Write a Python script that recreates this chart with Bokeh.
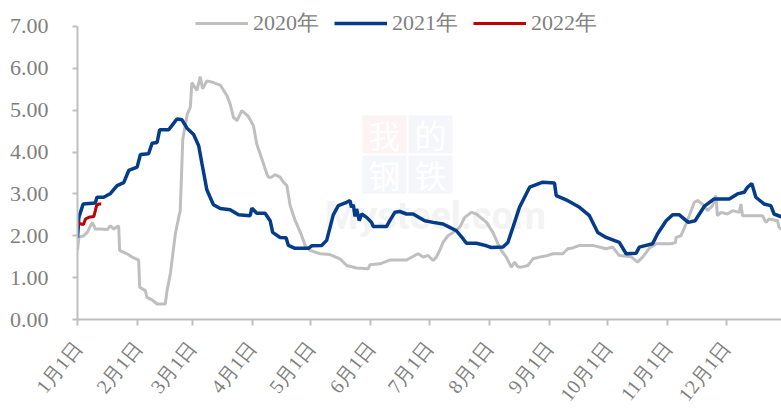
from bokeh.plotting import figure
from bokeh.models import Range1d, FixedTicker, Legend, LegendItem
from bokeh.core.properties import value
from bokeh.embed import file_html
from bokeh.resources import INLINE

# ---- data (day of year, value) ----
days_2020 = [0, 0.7, 3.2, 5, 7.6, 9.2, 11.8, 15.3, 17, 18.7, 21.2, 21.7, 25.5, 28.1, 31.5, 32, 34.9, 35.8,
             38.4, 41, 45.2, 46.1, 47.8, 50.4, 52.1, 52.9, 54.2, 56.5, 58.1, 58.9, 61.5, 63.2, 64.4, 66.6,
             70, 73.5, 76.9, 78.6, 80.3, 82.1, 84.6, 88, 90.6, 92.3, 94.9, 97.5, 98.3, 100, 101.7, 104.3,
             106, 107.8, 109.5, 112.1, 114.6, 116.3, 117.2, 119.7, 124.9, 130, 135.1, 138.6, 143.7, 149.7,
             150.6, 155.7, 160.8, 169.4, 173.7, 175.4, 178, 180.5, 183.1, 184.8, 186.5, 188.2, 190.8, 193.4,
             196.8, 199.4, 202.8, 205.4, 210.6, 213.9, 216.5, 218.2, 220.8, 223.4, 225.1, 226.8, 228.5,
             231.9, 234.5, 237.9, 242.2, 244.8, 249.9, 252.5, 255, 258.5, 265.3, 272.2, 275.6, 279, 285,
             288.4, 291, 294.4, 297.9, 305.6, 307.9, 308.2, 310.7, 313.3, 315, 317.6, 319.3, 321.8, 324.4,
             327, 328.7, 329.5, 331.3, 334.7, 337.3, 340.7, 341.6, 342.4, 352.7, 354.5, 356.1, 360.4, 361.3,
             364]
vals_2020 = [1.65, 1.96, 2.0, 2.08, 2.32, 2.16, 2.16, 2.15, 2.24, 2.16, 2.24, 1.65, 1.57, 1.49, 1.42, 0.77,
             0.69, 0.53, 0.47, 0.37, 0.37, 0.69, 1.09, 2.05, 2.44, 2.6, 4.3, 4.9, 5.07, 5.66, 5.47, 5.8, 5.51,
             5.7, 5.66, 5.6, 5.35, 5.15, 4.83, 4.75, 4.99, 4.85, 4.63, 4.19, 3.84, 3.48, 3.40, 3.4, 3.46, 3.4,
             3.28, 3.2, 2.72, 2.36, 2.1, 1.89, 1.77, 1.65, 1.57, 1.55, 1.45, 1.29, 1.23, 1.21, 1.31, 1.33,
             1.42, 1.42, 1.53, 1.57, 1.49, 1.53, 1.41, 1.49, 1.65, 1.84, 2.0, 2.08, 2.2, 2.44, 2.56, 2.52,
             2.32, 2.08, 1.81, 1.65, 1.49, 1.25, 1.37, 1.26, 1.25, 1.29, 1.45, 1.49, 1.53, 1.57, 1.57, 1.69,
             1.71, 1.77, 1.77, 1.69, 1.73, 1.53, 1.50, 1.37, 1.49, 1.7, 1.81, 1.81, 1.84, 1.96, 2.0, 2.28,
             2.48, 2.80, 2.84, 2.76, 2.6, 2.72, 2.96, 2.48, 2.56, 2.52, 2.6, 2.56, 2.76, 2.48, 2.48, 2.32,
             2.4, 2.36, 2.2, 2.1]

days_2021 = [0, 0.7, 2.9, 9.2, 10, 13.5, 17, 20.4, 23.8, 26.4, 30.7, 32.4, 36.6, 38.4, 41, 42.3, 46.9, 48.6,
             51.2, 53.8, 56.4, 59.8, 62.4, 64.1, 66.6, 68, 70, 73.5, 78.6, 82.9, 88.9, 89.8, 92.3, 96.6, 99.2,
             100.5, 104.3, 107.4, 108.6, 112, 118.9, 120.6, 125.7, 128.3, 131.7, 134.3, 138.6, 140.3, 141.1,
             142, 142.9, 143.7, 145.1, 146.3, 148.9, 151.4, 152.3, 159.1, 160.8, 163.4, 166, 169.4, 172.8,
             178.8, 183.1, 188.2, 191.7, 195.1, 198.5, 200.3, 205.4, 210.6, 213.1, 219.1, 221.6, 224.2, 227.6,
             232.8, 236.2, 239.6, 245.6, 246.5, 251.6, 258.5, 263.6, 267.9, 272.2, 279, 282.5, 287.6, 289.3,
             296.1, 298.7, 303.1, 306.4, 309.9, 314.5, 318, 322.7, 327.8, 335.6, 339.8, 343.3, 345, 347.2,
             349.3, 353.5, 357, 358.7, 362, 365]
vals_2021 = [1.95, 2.44, 2.76, 2.78, 2.92, 2.92, 3.01, 3.2, 3.27, 3.56, 3.64, 3.94, 3.96, 4.21, 4.23, 4.53,
             4.53, 4.63, 4.79, 4.77, 4.57, 4.42, 4.15, 3.72, 3.1, 2.95, 2.74, 2.65, 2.62, 2.5, 2.48, 2.66, 2.54,
             2.54, 2.36, 2.08, 1.96, 1.95, 1.77, 1.7, 1.7, 1.76, 1.77, 1.89, 2.5, 2.72, 2.8, 2.84, 2.68, 2.74,
             2.46, 2.64, 2.36, 2.52, 2.44, 2.32, 2.22, 2.22, 2.36, 2.56, 2.58, 2.52, 2.52, 2.36, 2.32, 2.28,
             2.2, 2.12, 1.93, 1.82, 1.82, 1.76, 1.72, 1.73, 1.84, 2.2, 2.68, 3.16, 3.22, 3.28, 3.26, 2.96, 2.86,
             2.68, 2.48, 2.08, 1.96, 1.84, 1.57, 1.58, 1.73, 1.81, 2.05, 2.36, 2.5, 2.5, 2.32, 2.36, 2.7, 2.88,
             2.88, 3.0, 3.04, 3.16, 3.25, 2.92, 2.76, 2.72, 2.52, 2.46, 2.42]

days_2022 = [0, 3.1, 4.1, 5.8, 8.4, 9.2, 9.8, 11, 12.2]
vals_2022 = [2.30, 2.27, 2.40, 2.44, 2.46, 2.6, 2.72, 2.76, 2.76]

month_days = [0, 31, 59, 90, 120, 151, 181, 212, 243, 273, 304, 334]
month_labels = ["1月1日", "2月1日", "3月1日", "4月1日", "5月1日", "6月1日",
                "7月1日", "8月1日", "9月1日", "10月1日", "11月1日", "12月1日"]
y_ticks = [0, 1, 2, 3, 4, 5, 6, 7]
series_names = ["2020年", "2021年", "2022年"]

# faint watermark (logo cells and site name)
wm_chars = ["我", "的", "钢", "铁"]
wm_left = [146.6, 170.4, 146.6, 170.4]
wm_right = [169.4, 193.1, 169.4, 193.1]
wm_bottom = [3.97, 3.97, 3.01, 3.01]
wm_top = [4.87, 4.87, 3.92, 3.92]
wm_fill = ["#fef3f3", "#f5f6fa", "#f5f6fa", "#f5f6fa"]
wm_site = "Mysteel.com"

GRAY_TXT = "#7f7f7f"
AXIS = "#bfbfbf"
FONT = "Liberation Serif"

p = figure(width=781, height=415, output_backend="svg", toolbar_location=None,
           x_range=Range1d(0, 362.5), y_range=Range1d(0, 7.62),
           min_border_left=77, min_border_right=0, min_border_top=0, min_border_bottom=96)
p.outline_line_color = None
p.xgrid.grid_line_color = None
p.ygrid.grid_line_color = None
p.background_fill_color = "white"
p.border_fill_color = "white"

# watermark
p.quad(left=wm_left, right=wm_right, bottom=wm_bottom, top=wm_top,
       fill_color=wm_fill, line_color=None, level="underlay")
p.text(x=[(l + r) / 2 for l, r in zip(wm_left, wm_right)],
       y=[(b + t) / 2 for b, t in zip(wm_bottom, wm_top)],
       text=wm_chars, text_align="center", text_baseline="middle",
       text_color="white", text_font=value("Noto Sans CJK SC"),
       text_font_size="32px", level="underlay")
p.text(x=[184.3], y=[2.48], text=[wm_site], text_align="center", text_baseline="alphabetic",
       text_color="#f3f3f3", text_font=value("Roboto"), text_font_style="bold",
       text_font_size="38px", level="underlay")

r20 = p.line(days_2020, vals_2020, line_color="#bfbfbf", line_width=3)
r21 = p.line(days_2021, vals_2021, line_color="#053c8a", line_width=3.5)
r22 = p.line(days_2022, vals_2022, line_color="#c00000", line_width=3)

# axes
p.yaxis.ticker = FixedTicker(ticks=y_ticks)
p.yaxis.major_label_overrides = {t: f"{t:.2f}" for t in y_ticks}
p.yaxis.bounds = (0, 7)
p.xaxis.ticker = FixedTicker(ticks=month_days)
p.xaxis.major_label_overrides = dict(zip(month_days, month_labels))
p.xaxis.major_label_orientation = 0.9
for ax in (p.xaxis[0], p.yaxis[0]):
    ax.axis_line_color = AXIS
    ax.axis_line_width = 2
    ax.major_tick_line_color = AXIS
    ax.major_tick_line_width = 2
    ax.major_tick_in = 0
    ax.minor_tick_line_color = None
    ax.major_label_text_color = GRAY_TXT
    ax.major_label_text_font = FONT
p.yaxis.major_label_text_font_size = "22px"
p.xaxis.major_label_text_font_size = "20px"
p.yaxis.major_tick_out = 5
p.yaxis.major_label_standoff = 24
p.xaxis.major_tick_out = 6
p.xaxis.major_label_standoff = 18

legend = Legend(items=[LegendItem(label=series_names[0], renderers=[r20]),
                       LegendItem(label=series_names[1], renderers=[r21]),
                       LegendItem(label=series_names[2], renderers=[r22])],
                orientation="horizontal", location=(118, 281),
                padding=0, margin=0, spacing=15, label_standoff=5,
                glyph_width=53, glyph_height=24, label_height=24,
                label_text_font=FONT, label_text_font_size="22px",
                label_text_color=GRAY_TXT,
                background_fill_alpha=0, border_line_alpha=0)
p.add_layout(legend)

open("out.html", "w").write(file_html(p, INLINE))
